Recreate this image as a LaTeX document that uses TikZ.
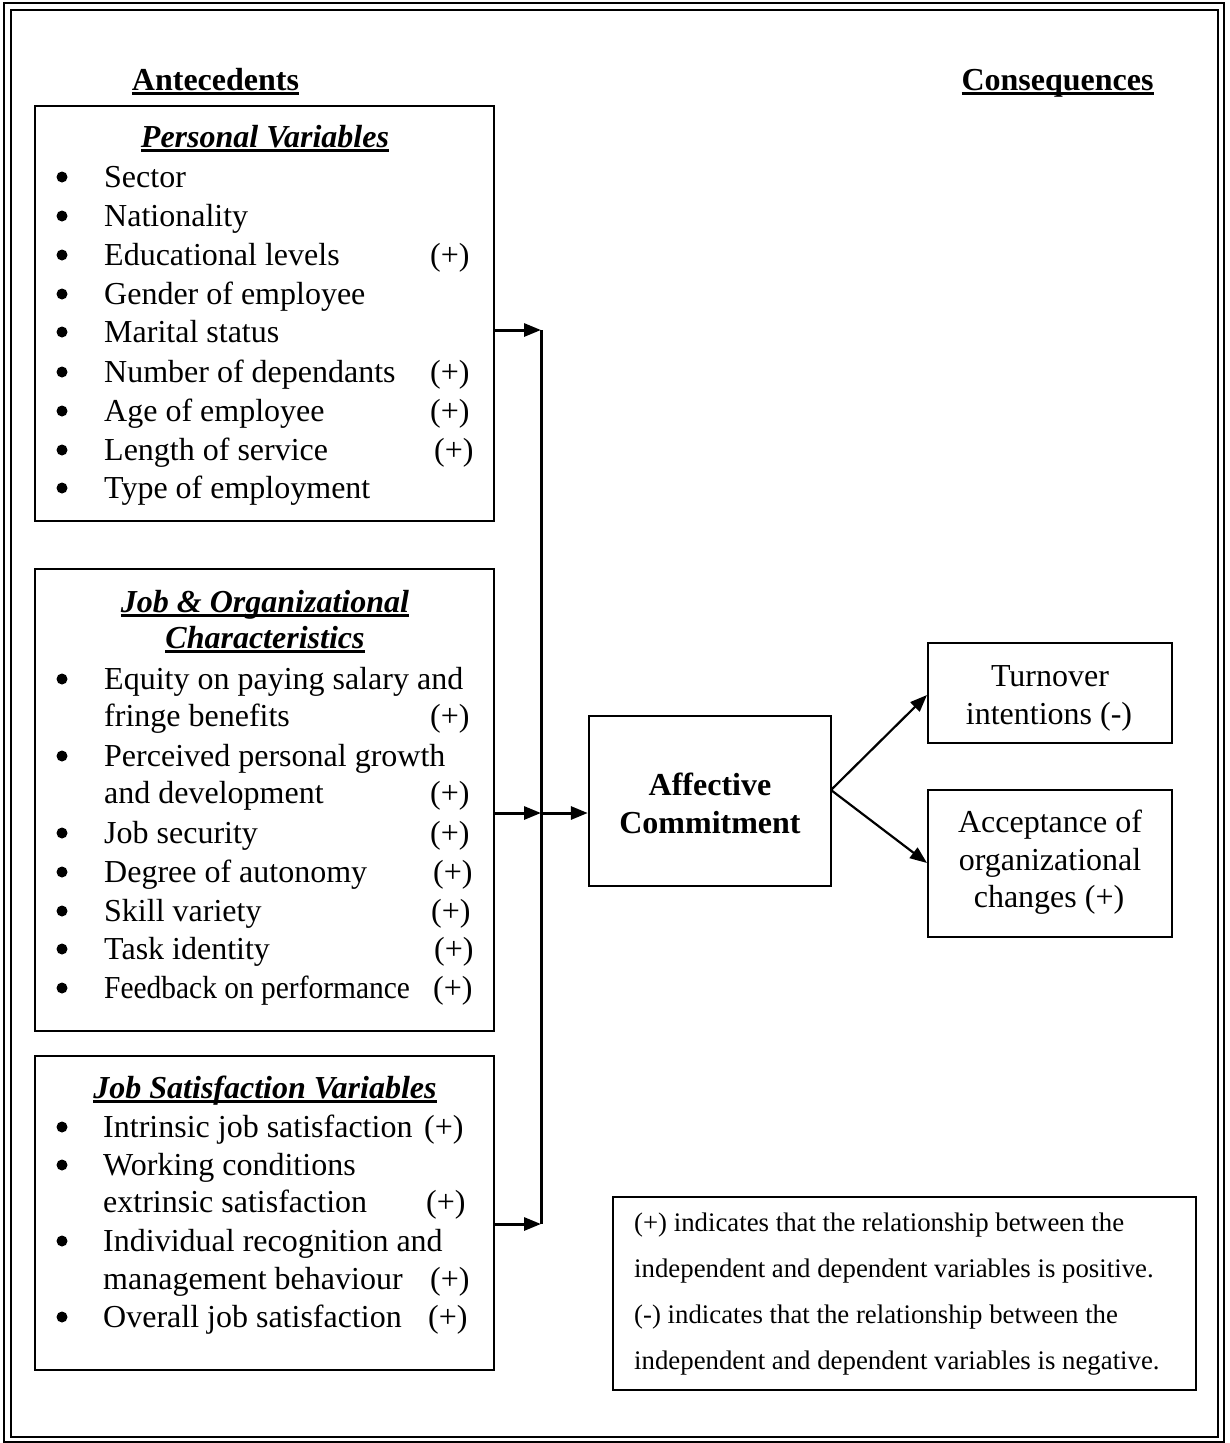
\documentclass[tikz,border=0pt]{standalone}
\usepackage{fontspec}
\setmainfont{Liberation Serif}
\usetikzlibrary{arrows.meta}
\newcommand\myul[1]{\setbox0\hbox{#1}\rlap{\rule[-5pt]{\wd0}{2.6pt}}\box0}
\tikzset{
  box/.style={draw, line width=2.4pt, inner sep=0pt},
  txt/.style={anchor=base west, inner sep=0pt, font=\fontsize{32}{39}\selectfont},
  ctxt/.style={anchor=base, inner sep=0pt, font=\fontsize{32}{39}\selectfont},
  bul/.style={circle, fill=black, inner sep=0pt, minimum size=11pt},
  legtxt/.style={anchor=base west, inner sep=0pt, font=\fontsize{26.8}{30}\selectfont},
  conn/.style={line width=3pt, -{Triangle[length=17pt,width=13pt]}},
  conn2/.style={line width=2.2pt, -{Triangle[length=17pt,width=13pt]}},
}
\begin{document}
\begin{tikzpicture}[x=1pt,y=-1pt]
\useasboundingbox (0,0) rectangle (1229,1443);
% outer double frame
\draw[line width=2.4pt] (4,3) rectangle (1224,1442);
\draw[line width=2.4pt] (11,10) rectangle (1218,1437);

% headings
\node[ctxt] (hA) at (215.5,90) {\bfseries\myul{Antecedents}};
\node[ctxt] (hC) at (1057.5,90) {\bfseries\myul{Consequences}};

% Box 1
\node[box, minimum width=459pt, minimum height=415pt] (b1) at (264.5,313.5) {};
\node[ctxt] (t1) at (265,147) {\bfseries\itshape\myul{Personal Variables}};
\foreach \y/\t [count=\i] in {187/Sector,226/Nationality,265/Educational levels,304/Gender of employee,342/Marital status,382/Number of dependants,421/Age of employee,460/Length of service,498/Type of employment}{
  \node[bul] (p\i b) at (62,\y-10) {};
  \node[txt] (p\i) at (104,\y) {\t};
}
\node[txt] (p3s) at (430,265) {(+)};
\node[txt] (p6s) at (430,382) {(+)};
\node[txt] (p7s) at (430,421) {(+)};
\node[txt] (p8s) at (434,460) {(+)};

% Box 2
\node[box, minimum width=459pt, minimum height=462pt] (b2) at (264.5,800) {};
\node[ctxt] (t2a) at (265,612) {\bfseries\itshape\myul{Job \& Organizational}};
\node[ctxt] (t2b) at (265,648) {\bfseries\itshape\myul{Characteristics}};
\foreach \y [count=\i] in {689,766,843,882,921,959,998}{
  \node[bul] (j\i b) at (62,\y-10) {};
}
\node[txt] (j1) at (104,689) {Equity on paying salary and};
\node[txt] (j1c) at (104,726) {fringe benefits};
\node[txt] (j2) at (104,766) {Perceived personal growth};
\node[txt] (j2c) at (104,803) {and development};
\node[txt] (j3) at (104,843) {Job security};
\node[txt] (j4) at (104,882) {Degree of autonomy};
\node[txt] (j5) at (104,921) {Skill variety};
\node[txt] (j6) at (104,959) {Task identity};
\node[txt] (j7) at (104,998) {\scalebox{0.92}[1]{Feedback on performance}};
\node[txt] (j1s) at (430,726) {(+)};
\node[txt] (j2s) at (430,803) {(+)};
\node[txt] (j3s) at (430,843) {(+)};
\node[txt] (j4s) at (433,882) {(+)};
\node[txt] (j5s) at (431,921) {(+)};
\node[txt] (j6s) at (434,959) {(+)};
\node[txt] (j7s) at (433,998) {(+)};

% Box 3
\node[box, minimum width=459pt, minimum height=314pt] (b3) at (264.5,1213) {};
\node[ctxt] (t3) at (265,1098) {\bfseries\itshape\myul{Job Satisfaction Variables}};
\foreach \y [count=\i] in {1137,1175,1251,1327}{
  \node[bul] (s\i b) at (62,\y-10) {};
}
\node[txt] (s1) at (103,1137) {Intrinsic job satisfaction};
\node[txt] (s2) at (103,1175) {Working conditions};
\node[txt] (s2c) at (103,1212) {extrinsic satisfaction};
\node[txt] (s3) at (103,1251) {Individual recognition and};
\node[txt] (s3c) at (103,1289) {management behaviour};
\node[txt] (s4) at (103,1327) {Overall job satisfaction};
\node[txt] (s1s) at (424,1137) {(+)};
\node[txt] (s2s) at (426,1212) {(+)};
\node[txt] (s3s) at (430,1289) {(+)};
\node[txt] (s4s) at (428,1327) {(+)};

% Affective commitment
\node[box, minimum width=242pt, minimum height=170pt] (ac) at (710,801) {};
\node[ctxt] (ac1) at (710,795) {\bfseries Affective};
\node[ctxt] (ac2) at (710,833) {\bfseries Commitment};

% Consequences
\node[box, minimum width=244pt, minimum height=100pt] (to) at (1050,693) {};
\node[ctxt] (to1) at (1050,686) {Turnover};
\node[ctxt] (to2) at (1049,724) {intentions (-)};
\node[box, minimum width=244pt, minimum height=147pt] (ao) at (1050,863.5) {};
\node[ctxt] (ao1) at (1050,832) {Acceptance of};
\node[ctxt] (ao2) at (1050,870) {organizational};
\node[ctxt] (ao3) at (1049,907) {changes (+)};

% Legend
\node[box, minimum width=583pt, minimum height=193pt] (lg) at (904.5,1293.5) {};
\node[legtxt] (l1) at (634,1231) {(+) indicates that the relationship between the};
\node[legtxt] (l2) at (634,1277) {independent and dependent variables is positive.};
\node[legtxt] (l3) at (634,1323) {(-) indicates that the relationship between the};
\node[legtxt] (l4) at (634,1369) {independent and dependent variables is negative.};

% connectors
\coordinate (c1) at (541,330);
\coordinate (c2) at (541,813);
\coordinate (c3) at (541,1224);
\draw[line width=3pt] (c1) -- (c3);
\draw[conn] (c1 -| b1.east) -- (c1);
\draw[conn] (c2 -| b2.east) -- (c2);
\draw[conn] (c3 -| b3.east) -- (c3);
\draw[conn] (c2) -- (c2 -| ac.west);
\coordinate (ao0) at (831,790);
\draw[conn2] (ao0) -- (927,695);
\draw[conn2] (ao0) -- (927,863);
\end{tikzpicture}
\end{document}
